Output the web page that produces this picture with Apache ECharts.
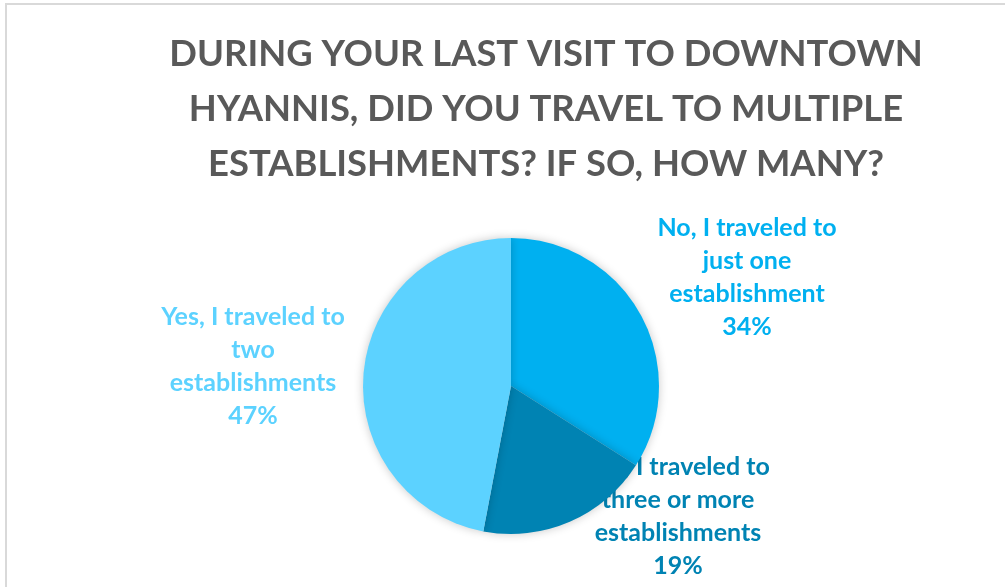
<!DOCTYPE html>
<html>
<head>
<meta charset="utf-8">
<script src="https://cdn.jsdelivr.net/npm/echarts@6/dist/echarts.min.js"></script>
<style>
  html, body { margin: 0; padding: 0; background: #fff; }
  #frame { position: absolute; left: 5px; top: 3px; width: 1000px; height: 584px;
           border-top: 2px solid #d9d9d9; border-left: 2px solid #d9d9d9; box-sizing: border-box; }
  #chart { position: absolute; left: 0; top: 0; width: 1005px; height: 587px; }
</style>
</head>
<body>
<div id="frame"></div>
<div id="chart"></div>
<script>
// Survey answers, in clockwise order from 12 o'clock
const answers = [
  'No, I traveled to\njust one\nestablishment',
  'Yes, I traveled to\nthree or more\nestablishments',
  'Yes, I traveled to\ntwo\nestablishments'
];
const shares = [34, 19, 47];
const sliceColors = ['#00B0F0', '#0083B3', '#5CD2FF'];

const titleText = 'DURING YOUR LAST VISIT TO DOWNTOWN\nHYANNIS, DID YOU TRAVEL TO MULTIPLE\nESTABLISHMENTS? IF SO, HOW MANY?';

// Label anchor points (label centre) for each slice
const labelAnchors = [[747, 277], [678, 516], [253, 366]];

const font = 'Lato, "Open Sans", sans-serif';

const chart = echarts.init(document.getElementById('chart'), null, { renderer: 'canvas' });
const pieCommon = {
  type: 'pie',
  center: [511, 386],
  radius: 148,
  startAngle: 90,
  clockwise: true,
  animation: false,
  silent: true,
  labelLine: { show: false }
};
chart.setOption({
  backgroundColor: 'transparent',
  title: {
    text: titleText,
    left: 541,
    top: 22,
    textAlign: 'center',
    textStyle: {
      fontFamily: font, fontWeight: 'bold', fontSize: 36.4, lineHeight: 55, color: '#595959'
    }
  },
  series: [
    // Labels, drawn underneath the slices (the slices may cover part of them)
    Object.assign({}, pieCommon, {
      z: 1,
      data: answers.map((name, i) => ({
        name, value: shares[i],
        itemStyle: { color: 'rgba(255,255,255,0)' },
        label: { color: sliceColors[i] }
      })),
      label: {
        show: true,
        position: 'outside',
        formatter: p => p.name + '\n' + p.value + '%',
        fontFamily: font, fontWeight: 'bold', fontSize: 25, lineHeight: 33,
        align: 'center', verticalAlign: 'middle'
      },
      labelLayout: p => ({
        x: labelAnchors[p.dataIndex][0],
        y: labelAnchors[p.dataIndex][1],
        align: 'center', verticalAlign: 'middle'
      })
    }),
    // Slices
    Object.assign({}, pieCommon, {
      z: 2,
      data: answers.map((name, i) => ({
        name, value: shares[i], itemStyle: { color: sliceColors[i] }
      })),
      label: { show: false },
      itemStyle: { shadowBlur: 10, shadowColor: 'rgba(0,0,0,0.22)' }
    })
  ]
});
</script>
</body>
</html>
